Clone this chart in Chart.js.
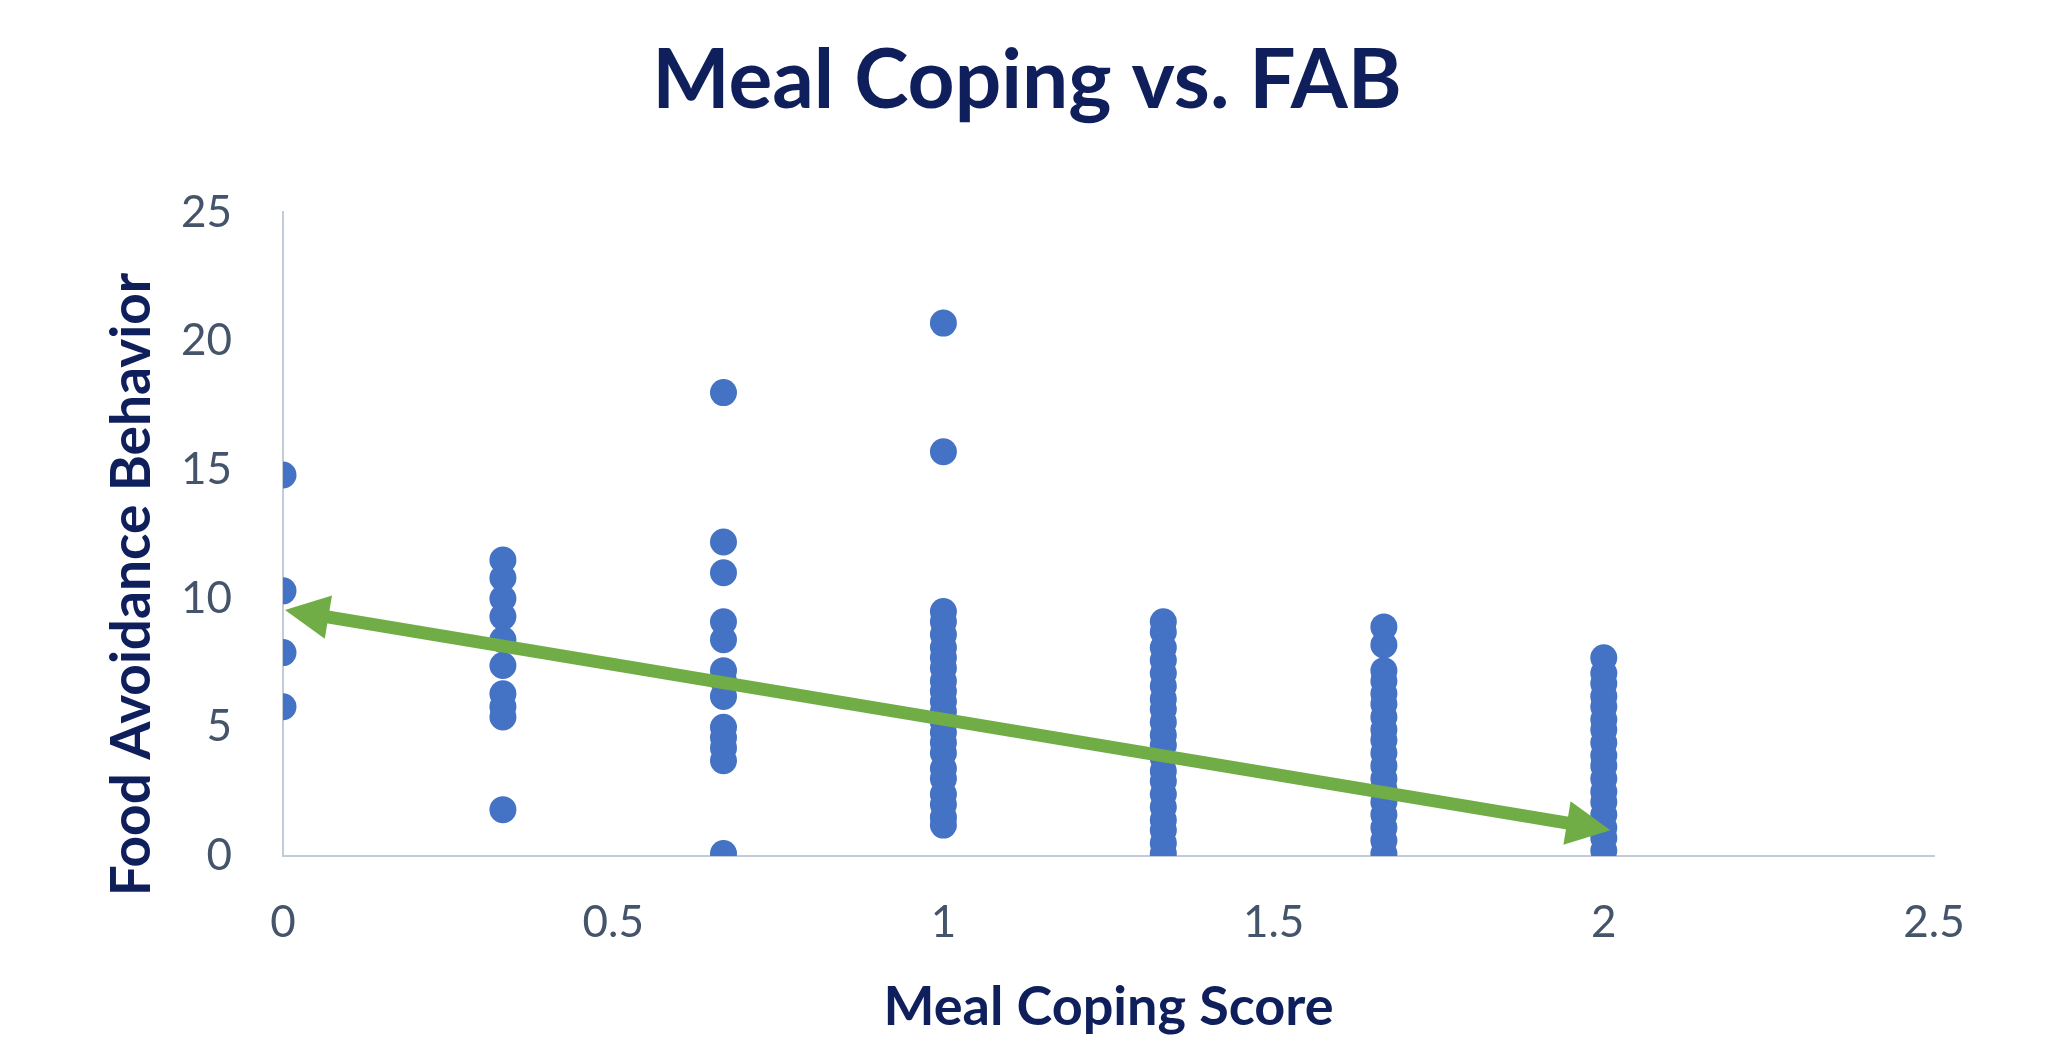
<!DOCTYPE html>
<html><head><meta charset="utf-8">
<script src="https://cdn.jsdelivr.net/npm/chart.js@4/dist/chart.umd.min.js"></script>
<style>html,body{margin:0;padding:0;background:#fff}#wrap{width:2066px;height:1040px}</style>
</head><body><div id="wrap"><canvas id="c" width="2066" height="1040"></canvas></div>
<script>
// ---- data ----
const copingScores = [0, 0.333, 0.667, 1, 1.333, 1.667, 2];
const fabAt0   = [14.8, 10.3, 7.9, 5.8];
const fabAt033 = [11.5, 10.8, 10.0, 9.3, 8.4, 7.4, 6.3, 5.8, 5.4, 1.8];
const fabAt067 = [18.0, 12.2, 11.0, 9.1, 8.4, 7.2, 6.8, 6.2, 5.0, 4.6, 4.2, 3.7, 0.1];
const fabAt1   = [20.7, 15.7, 9.5, 9.1, 8.6, 8.1, 7.7, 7.3, 6.8, 6.4, 6.0, 5.6, 5.2, 4.8, 4.4, 4.0, 3.4, 3.0, 2.4, 2.0, 1.5, 1.2];
const fabAt133 = [9.1, 8.7, 8.1, 7.6, 7.1, 6.6, 6.1, 5.7, 5.2, 4.7, 4.3, 3.8, 3.3, 2.9, 2.4, 1.9, 1.4, 1.0, 0.5, 0.1];
const fabAt167 = [8.9, 8.2, 7.2, 6.8, 6.3, 5.9, 5.4, 4.9, 4.5, 4.0, 3.5, 3.0, 2.6, 2.1, 1.6, 1.1, 0.6, 0.1];
const fabAt2   = [7.7, 7.1, 6.7, 6.2, 5.8, 5.3, 4.9, 4.4, 3.9, 3.5, 3.0, 2.5, 2.1, 1.6, 1.1, 0.7, 0.2];
const trendX = [0.003, 2.01];
const trendY = [9.56, 1.0];
const xTicks = [0, 0.5, 1, 1.5, 2, 2.5];
const yTicks = [0, 5, 10, 15, 20, 25];
const chartTitle = 'Meal Coping vs. FAB';
const xTitle = 'Meal Coping Score';
const yTitle = 'Food Avoidance Behavior';

// ---- build ----
const columns = [fabAt0, fabAt033, fabAt067, fabAt1, fabAt133, fabAt167, fabAt2];
const points = [];
columns.forEach((col, i) => col.forEach(v => points.push({x: copingScores[i], y: v})));

const NAVY = '#0F1F5C';
const TICK = '#44546A';
const AXIS = '#C3CAD8';
const GREEN = '#70AD47';
const BLUE = '#4472C4';
const FONT = 'Lato, "Open Sans", sans-serif';

const arrowPlugin = {
  id: 'trendArrow',
  afterDatasetsDraw(chart) {
    const {ctx, scales: {x, y}} = chart;
    const x1 = x.getPixelForValue(trendX[0]), y1 = y.getPixelForValue(trendY[0]);
    const x2 = x.getPixelForValue(trendX[1]), y2 = y.getPixelForValue(trendY[1]);
    const ang = Math.atan2(y2 - y1, x2 - x1);
    const L = 44, W = 22, c = Math.cos(ang), s = Math.sin(ang);
    ctx.save();
    ctx.strokeStyle = GREEN; ctx.fillStyle = GREEN; ctx.lineWidth = 13; ctx.lineCap = 'butt';
    ctx.beginPath();
    ctx.moveTo(x1 + (L - 4) * c, y1 + (L - 4) * s);
    ctx.lineTo(x2 - (L - 4) * c, y2 - (L - 4) * s);
    ctx.stroke();
    const head = (tx, ty, dx, dy) => {
      const bx = tx - L * dx, by = ty - L * dy;
      ctx.beginPath();
      ctx.moveTo(tx, ty);
      ctx.lineTo(bx - W * dy, by + W * dx);
      ctx.lineTo(bx + W * dy, by - W * dx);
      ctx.closePath();
      ctx.fill();
    };
    head(x1, y1, -c, -s);
    head(x2, y2, c, s);
    ctx.restore();
  }
};

const yTitlePlugin = {
  id: 'yTitleOffset',
  afterDraw(chart) {
    const {ctx, chartArea} = chart;
    ctx.save();
    ctx.translate(132, chartArea.top + 0.578 * (chartArea.bottom - chartArea.top));
    ctx.rotate(-Math.PI / 2);
    ctx.font = 'bold 55px ' + FONT;
    ctx.fillStyle = NAVY;
    ctx.textAlign = 'center';
    ctx.textBaseline = 'middle';
    ctx.fillText(yTitle, 0, 0);
    ctx.restore();
  }
};

function build() {
  new Chart(document.getElementById('c'), {
    type: 'scatter',
    data: {
      datasets: [{
        label: 'FAB',
        data: points,
        backgroundColor: BLUE,
        borderWidth: 0,
        pointRadius: 13.5,
        pointHoverRadius: 13.5
      }]
    },
    options: {
      responsive: false,
      animation: false,
      devicePixelRatio: 1,
      layout: {padding: {left: 0, right: 12, top: 0, bottom: 0}},
      plugins: {
        legend: {display: false},
        tooltip: {enabled: false},
        title: {
          display: true,
          text: chartTitle,
          color: NAVY,
          font: {family: FONT, weight: 'bold', size: 82, lineHeight: 1.2},
          padding: {top: 32, bottom: 82}
        }
      },
      scales: {
        x: {
          type: 'linear',
          min: 0, max: 2.5,
          afterBuildTicks: s => { s.ticks = xTicks.map(v => ({value: v})); },
          afterFit: s => { s.height = 184; },
          grid: {display: false, drawTicks: false},
          border: {display: true, color: AXIS, width: 2},
          ticks: {color: TICK, font: {family: FONT, size: 44}, padding: 40, callback: v => String(v)},
          title: {display: true, text: xTitle, color: NAVY, font: {family: FONT, weight: 'bold', size: 54, lineHeight: 1.2}, padding: {top: 30, bottom: 0}}
        },
        y: {
          type: 'linear',
          min: 0, max: 25,
          afterBuildTicks: s => { s.ticks = yTicks.map(v => ({value: v})); },
          afterFit: s => { s.width = 283; },
          grid: {display: false, drawTicks: false},
          border: {display: true, color: AXIS, width: 2},
          ticks: {color: TICK, font: {family: FONT, size: 44}, padding: 51, callback: v => String(v)}
        },
        spacer: {
          type: 'linear',
          position: 'right',
          min: 0, max: 1,
          afterFit: s => { s.width = 120; },
          grid: {display: false, drawTicks: false},
          border: {display: false},
          ticks: {display: false}
        }
      }
    },
    plugins: [arrowPlugin, yTitlePlugin]
  });
}
const fontsReady = document.fonts && document.fonts.load
  ? Promise.all([document.fonts.load('bold 80px Lato'), document.fonts.load('44px Lato')]).catch(() => {})
  : Promise.resolve();
fontsReady.then(build, build);
</script>
</body></html>
